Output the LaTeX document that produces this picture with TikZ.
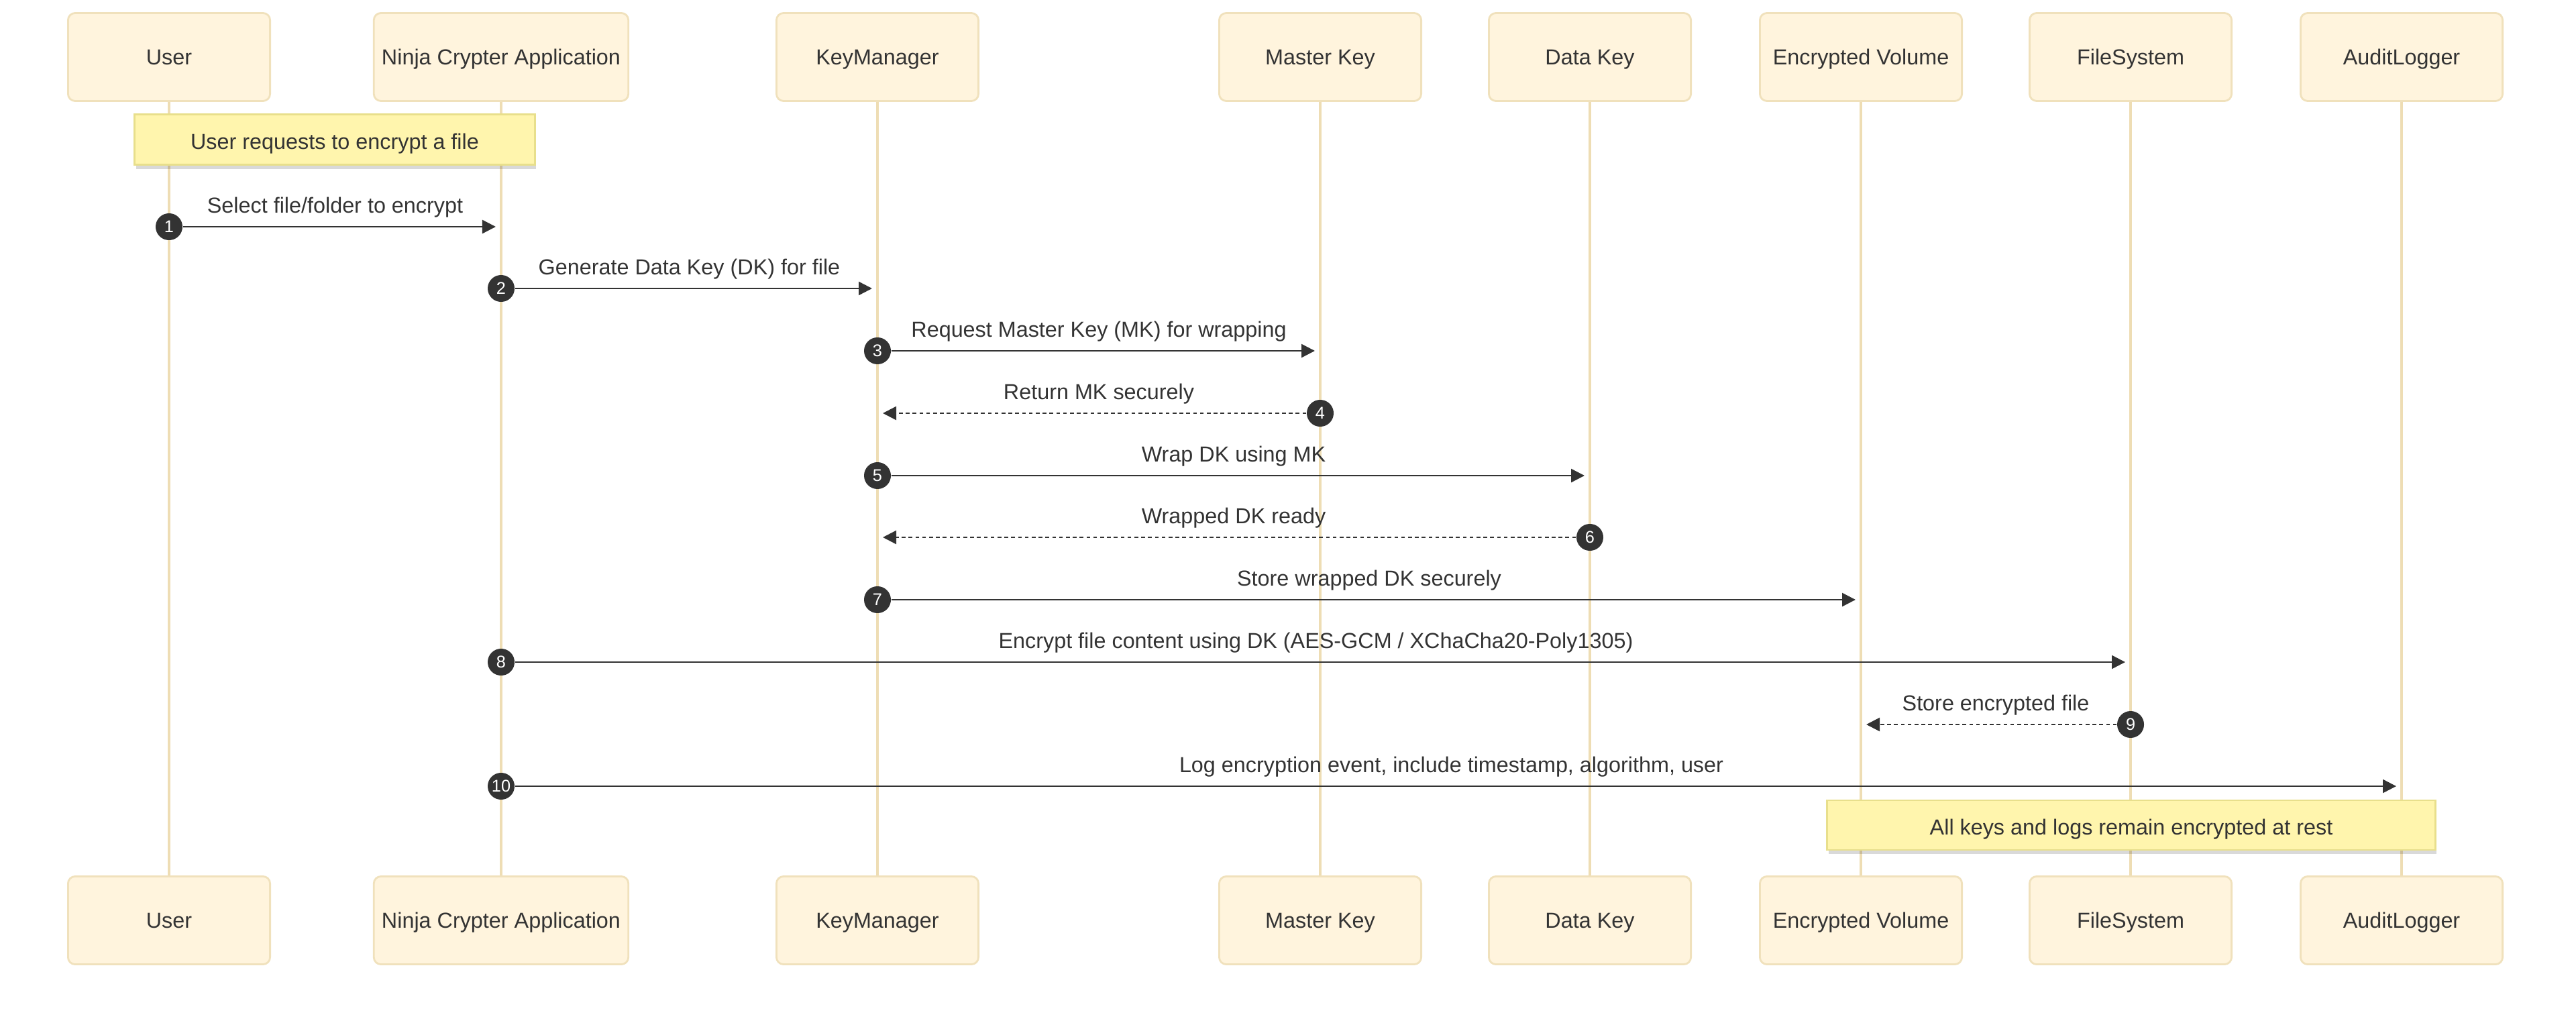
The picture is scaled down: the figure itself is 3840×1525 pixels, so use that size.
\documentclass[tikz,border=0pt]{standalone}
\usepackage{fontspec}
\setmainfont{Liberation Sans}
\usetikzlibrary{arrows.meta,shadows,calc}

\definecolor{actorfill}{HTML}{FFF4DD}
\definecolor{actorline}{HTML}{F0E1BC}
\definecolor{lifecol}{HTML}{EEDDB4}
\definecolor{notefill}{HTML}{FFF5AD}
\definecolor{noteline}{HTML}{E8DF8C}
\definecolor{ink}{HTML}{333333}

\tikzset{
    actor/.style={draw=actorline, fill=actorfill, line width=0.8pt, rounded corners=3pt,
        minimum width=3.01cm, minimum height=1.31cm, text=ink, font=\fontsize{9.2}{11}\selectfont,
        text height=6.8pt, text depth=0pt},
    life/.style={draw=lifecol, line width=1pt},
    note/.style={draw=noteline, fill=notefill, line width=0.8pt, text=ink,
        font=\fontsize{9.2}{11}\selectfont, text height=8.2pt, text depth=0pt,
        drop shadow={shadow xshift=0.02cm, shadow yshift=-0.06cm, fill=black, opacity=0.15}},
    num/.style={circle, fill=ink, text=white, inner sep=0pt, minimum size=0.4cm,
        font=\fontsize{7.2}{8}\selectfont},
    msg/.style={draw=ink, line width=0.7pt, -{Triangle[length=0.2cm,width=0.2cm]}},
    reply/.style={msg, dash pattern=on 1.6pt off 1.3pt},
    lbl/.style={text=ink, font=\fontsize{9.2}{11}\selectfont, text height=6.8pt, text depth=0pt,
        yshift=0.325cm}
}

\begin{document}
\begin{tikzpicture}[x=0.01cm, y=-0.01cm]
        \useasboundingbox (0,0) rectangle (3840,1525);
        % participants (top)
        \node[actor] (userT) at (252,85) {User};
        \node[actor, minimum width=3.78cm] (appT) at (747,85) {Ninja Crypter Application};
        \node[actor] (kmT) at (1308,85) {KeyManager};
        \node[actor] (mkT) at (1968,85) {Master Key};
        \node[actor] (dkT) at (2370,85) {Data Key};
        \node[actor] (evT) at (2774,85) {Encrypted Volume};
        \node[actor] (fsT) at (3176,85) {FileSystem};
        \node[actor] (alT) at (3580,85) {AuditLogger};
        % participants (bottom)
        \node[actor] (userB) at (252,1372) {User};
        \node[actor, minimum width=3.78cm] (appB) at (747,1372) {Ninja Crypter Application};
        \node[actor] (kmB) at (1308,1372) {KeyManager};
        \node[actor] (mkB) at (1968,1372) {Master Key};
        \node[actor] (dkB) at (2370,1372) {Data Key};
        \node[actor] (evB) at (2774,1372) {Encrypted Volume};
        \node[actor] (fsB) at (3176,1372) {FileSystem};
        \node[actor] (alB) at (3580,1372) {AuditLogger};
        % lifelines
        \foreach \p in {user,app,km,mk,dk,ev,fs,al} {
            \draw[life] (\p T.south) -- (\p B.north);
        }
        % notes
        \node[note, minimum width=5.96cm, minimum height=0.75cm] (noteReq) at (499,208) {User requests to encrypt a file};
        \node[note, minimum width=9.06cm, minimum height=0.74cm] (noteRest) at (3177,1230) {All keys and logs remain encrypted at rest};
        % 1: user -> app
        \node[num] (n1) at (252,338) {1};
        \draw[msg] (n1) -- ([xshift=-0.08cm]appT |- n1)
            node[lbl] at ($(n1)!.5!(appT |- n1)$) {Select file/folder to encrypt};
        % 2: app -> km
        \node[num] (n2) at (747,430) {2};
        \draw[msg] (n2) -- ([xshift=-0.08cm]kmT |- n2)
            node[lbl] at ($(n2)!.5!(kmT |- n2)$) {Generate Data Key (DK) for file};
        % 3: km -> mk
        \node[num] (n3) at (1308,523) {3};
        \draw[msg] (n3) -- ([xshift=-0.08cm]mkT |- n3)
            node[lbl] at ($(n3)!.5!(mkT |- n3)$) {Request Master Key (MK) for wrapping};
        % 4: mk -> km
        \node[num] (n4) at (1968,616) {4};
        \draw[reply] (n4) -- ([xshift=0.08cm]kmT |- n4)
            node[lbl] at ($(n4)!.5!(kmT |- n4)$) {Return MK securely};
        % 5: km -> dk
        \node[num] (n5) at (1308,709) {5};
        \draw[msg] (n5) -- ([xshift=-0.08cm]dkT |- n5)
            node[lbl] at ($(n5)!.5!(dkT |- n5)$) {Wrap DK using MK};
        % 6: dk -> km
        \node[num] (n6) at (2370,801) {6};
        \draw[reply] (n6) -- ([xshift=0.08cm]kmT |- n6)
            node[lbl] at ($(n6)!.5!(kmT |- n6)$) {Wrapped DK ready};
        % 7: km -> ev
        \node[num] (n7) at (1308,894) {7};
        \draw[msg] (n7) -- ([xshift=-0.08cm]evT |- n7)
            node[lbl] at ($(n7)!.5!(evT |- n7)$) {Store wrapped DK securely};
        % 8: app -> fs
        \node[num] (n8) at (747,987) {8};
        \draw[msg] (n8) -- ([xshift=-0.08cm]fsT |- n8)
            node[lbl] at ($(n8)!.5!(fsT |- n8)$) {Encrypt file content using DK (AES-GCM / XChaCha20-Poly1305)};
        % 9: fs -> ev
        \node[num] (n9) at (3176,1080) {9};
        \draw[reply] (n9) -- ([xshift=0.08cm]evT |- n9)
            node[lbl] at ($(n9)!.5!(evT |- n9)$) {Store encrypted file};
        % 10: app -> al
        \node[num] (n10) at (747,1172) {10};
        \draw[msg] (n10) -- ([xshift=-0.08cm]alT |- n10)
            node[lbl] at ($(n10)!.5!(alT |- n10)$) {Log encryption event, include timestamp, algorithm, user};
\end{tikzpicture}
\end{document}
